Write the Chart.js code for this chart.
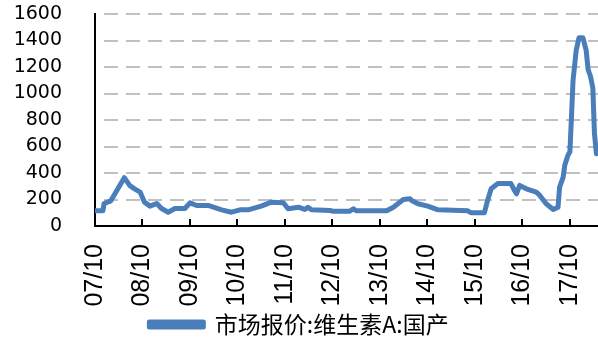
<!DOCTYPE html>
<html><head><meta charset="utf-8">
<script src="https://cdn.jsdelivr.net/npm/chart.js@4/dist/chart.umd.min.js"></script>
<style>html,body{margin:0;padding:0;background:#fff}#wrap{width:598px;height:340px}</style>
</head><body><div id="wrap"><canvas id="c" width="598" height="340"></canvas></div>
<script>
const dates = [
 '2007-10-01','2007-12-01','2007-12-10','2008-02-01','2008-05-13','2008-06-25','2008-08-01','2008-09-13',
 '2008-10-16','2008-11-28','2009-01-19','2009-02-25','2009-04-16','2009-06-07','2009-08-22','2009-10-01',
 '2009-11-22','2010-02-19','2010-06-01','2010-08-16','2010-10-19','2010-12-22','2011-04-01','2011-06-19',
 '2011-09-19','2011-10-25','2012-01-13','2012-03-01','2012-03-25','2012-04-22','2012-09-13','2012-10-01',
 '2013-02-13','2013-03-10','2013-04-01','2013-11-22','2014-01-13','2014-03-28','2014-05-19','2014-06-01',
 '2014-07-19','2014-10-04','2014-12-22','2015-08-07','2015-09-01','2015-12-13','2016-01-07','2016-02-04',
 '2016-03-25','2016-07-04','2016-08-01','2016-08-16','2016-09-10','2016-11-01','2017-01-16','2017-02-13',
 '2017-04-01','2017-05-25','2017-07-01','2017-07-13','2017-08-10','2017-08-22','2017-09-16','2017-10-01',
 '2017-10-13','2017-10-25','2017-11-19','2017-12-10','2018-01-10','2018-02-04','2018-02-19','2018-03-07',
 '2018-03-25','2018-04-07','2018-04-22'
];
const prices = [
 115,115,170,190,365,305,280,256,
 180,150,170,132,104,132,132,175,
 155,155,122,104,122,122,150,180,
 175,130,142,125,142,122,117,112,
 112,130,115,115,142,200,205,193,
 168,150,122,115,100,100,193,281,
 320,320,268,243,306,281,256,231,
 168,125,142,294,369,458,533,560,
 823,1100,1328,1420,1420,1328,1180,1130,
 1040,700,546
];
const tickLabels = ['07/10','08/10','09/10','10/10','11/10','12/10','13/10','14/10','15/10','16/10','17/10'];
const seriesName = '市场报价:维生素A:国产';

const monthOffset = s => { const [y,m,d] = s.split('-').map(Number); return (y-2007)*12 + (m-10) + (d-1)/30; };
const points = dates.map((d,i) => ({x: monthOffset(d), y: prices[i]}));

new Chart(document.getElementById('c'), {
  type: 'line',
  data: { datasets: [{
    label: seriesName, data: points,
    borderColor: '#4a7ebb', backgroundColor: '#4a7ebb',
    borderWidth: 5, pointRadius: 0, tension: 0,
    borderJoinStyle: 'round', borderCapStyle: 'round'
  }]},
  options: {
    responsive: false, animation: false, devicePixelRatio: 1,
    layout: { padding: { top: 14, right: 0, left: 0, bottom: -6 } },
    plugins: {
      legend: { position: 'bottom', labels: { boxWidth: 54, boxHeight: 5, padding: 3, color: '#000',
        font: { family: 'Noto Sans CJK SC', size: 23 } } },
      tooltip: { enabled: false }
    },
    scales: {
      x: {
        type: 'linear', min: 0, max: 127.1,
        afterBuildTicks: s => { s.ticks = tickLabels.map((t,i) => ({ value: i*12 })); },
        afterFit: s => { s.height = 346 - 226 - s.chart.legend.height; s.paddingLeft = 0; s.paddingRight = 0; },
        ticks: { autoSkip: false, minRotation: 90, maxRotation: 90, padding: 25, color: '#000',
          font: { family: 'Liberation Sans', size: 25 },
          callback: (v, i) => tickLabels[i] },
        grid: { drawOnChartArea: false, color: '#000', lineWidth: 2, tickLength: -7 },
        border: { color: '#000', width: 2 }
      },
      y: {
        min: 0, max: 1600,
        afterFit: s => { s.width = 95; s.paddingTop = 0; s.paddingBottom = 0; },
        ticks: { stepSize: 200, autoSkip: false, padding: 33, color: '#000',
          font: { family: 'DejaVu Sans', size: 19 }, callback: v => String(v) },
        grid: { color: '#c0c0c0', lineWidth: 2, drawTicks: false },
        border: { color: '#000', width: 2, dash: [14, 8], dashOffset: 14 }
      }
    }
  }
});
</script></body></html>
